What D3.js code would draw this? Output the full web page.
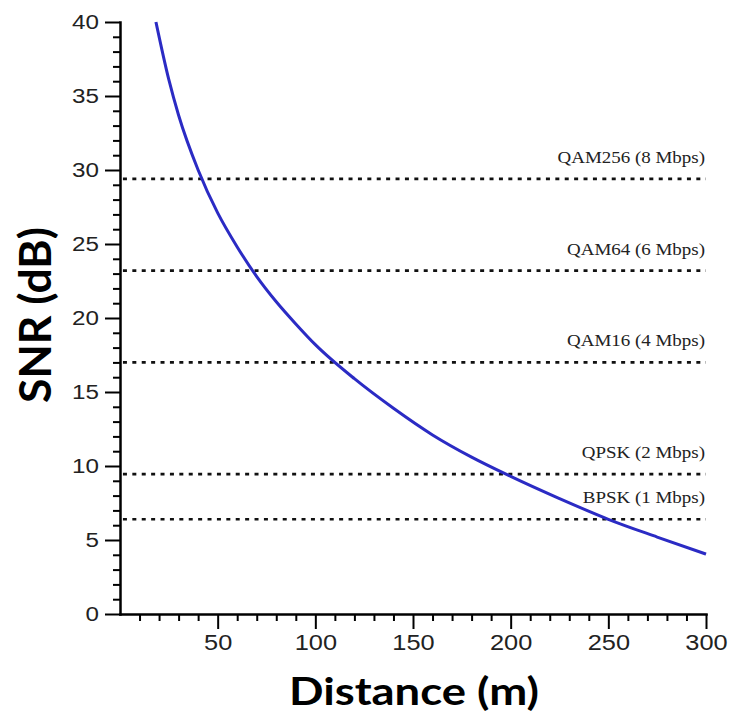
<!DOCTYPE html>
<html><head><meta charset="utf-8">
<script src="https://cdn.jsdelivr.net/npm/d3@7"></script>
<style>
body{margin:0;background:#fff}
.axis .domain{stroke:#000;stroke-width:2.5;stroke-linecap:square}
.axis line{stroke:#000;stroke-width:2}
.axis text{font-family:"Liberation Sans",Arial,sans-serif;fill:#222}
</style></head>
<body><svg id="c" width="729" height="716"></svg>
<script>
// ---- data ----
const distance = [18.4,25,30,40,50,60,70,80,90,100,120,140,160,180,200,225,250,275,300];
const snr      = [40,36.1,33.7,30.0,27.1,24.8,22.8,21.1,19.6,18.2,15.9,13.9,12.1,10.6,9.3,7.8,6.4,5.2,4.05];
const thresholdValues = [29.4,23.2,17.0,9.45,6.4];
const thresholdLabels = ["QAM256 (8 Mbps)","QAM64 (6 Mbps)","QAM16 (4 Mbps)","QPSK (2 Mbps)","BPSK (1 Mbps)"];
const xMajorTicks = [50,100,150,200,250,300];
const yMajorTicks = [0,5,10,15,20,25,30,35,40];
const xTitle = "Distance (m)";
const yTitle = "SNR (dB)";

const svg = d3.select("#c");
const x = d3.scaleLinear().domain([0,300]).range([120,706]);
const y = d3.scaleLinear().domain([0,40]).range([614,22]);

const xMinor = d3.range(10,300,10).filter(v=>v%50!==0);
const yMinor = d3.range(1,40,1).filter(v=>v%5!==0);
const SX = 1.18;

// threshold lines
thresholdValues.forEach((v,i)=>{
  svg.append("line")
    .attr("x1",x(1.5)).attr("x2",x(300))
    .attr("y1",y(v)).attr("y2",y(v))
    .attr("stroke","#111").attr("stroke-width",2.6)
    .attr("stroke-dasharray","4,5.4");
  svg.append("text")
    .attr("transform",`translate(${x(300)-1},${y(v)-16}) scale(1.15,1)`)
    .attr("text-anchor","end")
    .style("font-family",'"Liberation Serif","Times New Roman",serif')
    .style("font-size","16.5px")
    .attr("fill","#222")
    .text(thresholdLabels[i]);
});

// curve
const pts = distance.map((d,i)=>[d,snr[i]]);
svg.append("path").datum(pts)
  .attr("fill","none").attr("stroke","#2b2bc4").attr("stroke-width",3)
  .attr("d",d3.line().x(d=>x(d[0])).y(d=>y(d[1])).curve(d3.curveMonotoneX));

// axes - minor
svg.append("g").attr("class","axis").attr("transform","translate(0,614)")
  .call(d3.axisBottom(x).tickValues(xMinor).tickSize(7).tickFormat(""))
  .call(g=>g.select(".domain").remove());
svg.append("g").attr("class","axis").attr("transform","translate(120,0)")
  .call(d3.axisLeft(y).tickValues(yMinor).tickSize(7).tickFormat(""))
  .call(g=>g.select(".domain").remove());

// axes - major
const gx = svg.append("g").attr("class","axis").attr("transform","translate(0,614)")
  .call(d3.axisBottom(x).tickValues(xMajorTicks).tickSize(15).tickPadding(6).tickSizeOuter(0));
gx.selectAll("text").style("font-size","21.5px").attr("transform",`scale(${SX},1)`);

const gy = svg.append("g").attr("class","axis").attr("transform","translate(120,0)")
  .call(d3.axisLeft(y).tickValues(yMajorTicks).tickSize(15).tickPadding(6).tickSizeOuter(0));
gy.selectAll("text").style("font-size","20.5px").attr("x",-21/SX).attr("transform",`scale(${SX},1)`);

// titles
const xt = svg.append("text").attr("text-anchor","middle")
  .style("font-family","Lato,'Open Sans',sans-serif").style("font-weight","700").style("font-size","38px")
  .attr("fill","#000").text(xTitle);
const xw = xt.node().getComputedTextLength();
xt.attr("transform",`translate(414,705) scale(${250/xw},1)`);

const yt = svg.append("text").attr("text-anchor","middle")
  .style("font-family","Lato,'Open Sans',sans-serif").style("font-weight","700").style("font-size","38px")
  .attr("fill","#000").text(yTitle);
const yw = yt.node().getComputedTextLength();
yt.attr("transform",`translate(51,315) rotate(-90) scale(${176/yw},1.17)`);
</script>
</body></html>
